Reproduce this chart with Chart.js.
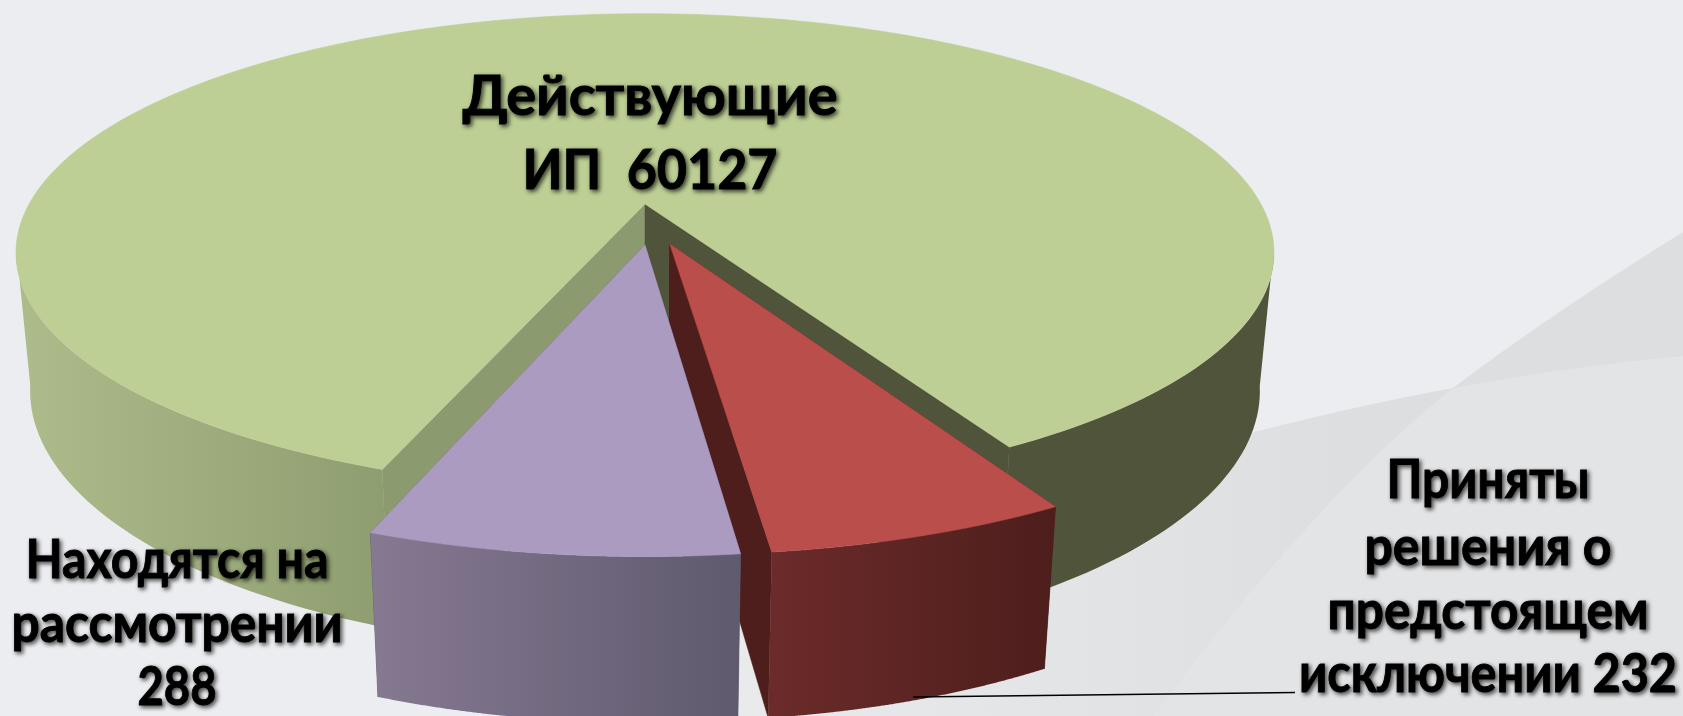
<!DOCTYPE html>
<html lang="ru">
<head>
<meta charset="utf-8">
<title>ИП</title>
<script src="https://cdn.jsdelivr.net/npm/chart.js@4/dist/chart.umd.min.js"></script>
<style>
  html, body { margin: 0; padding: 0; background: #ecedf0; overflow: hidden; }
  canvas { display: block; }
</style>
</head>
<body>
<canvas id="pie" width="1683" height="716"></canvas>
<script>
// categories in drawing order: green, red, purple
const categories = ["Действующие ИП", "Приняты решения о предстоящем исключении", "Находятся на рассмотрении"];
// numbers printed on the labels
const labelValues = [60127, 232, 288];
// slice sizes as they look in the picture (%), the picture does not plot the printed numbers to scale
const sliceShares = [86.3, 6.2, 7.5];
const explode = [0, 52, 52];

const labelLines = [
  ["Действующие", "ИП  " + labelValues[0]],
  ["Приняты", "решения о", "предстоящем", "исключении " + labelValues[1]],
  ["Находятся на", "рассмотрении", String(labelValues[2])]
];

const topColors = ["#bdcf95", "#b94e4b", "#ab9bc1"];
const wallStops = [
  [[0, "#aebc8c"], [0.29, "#8f9e70"], [0.5, "#50543a"], [1, "#50543a"]],
  [[0, "#6b2b2a"], [1, "#4d1e1c"]],
  [[0, "#867992"], [1, "#5f5a6e"]]
];
const startFaceColors = ["#8b9a6f", "#4d1e1c", "#5f5a6e"];
const endFaceColors = ["#50543a", "#4d1e1c", "#5f5a6e"];
// explode direction differs a bit from the bisector in the picture
const explodeShift = [0, 5, -6.7];

// perspective of the 3d look, radius of the arcs = 1
const rx = 2.053, ry = 0.763, depth = 0.46, tilt = 0.203, sink = 0.022;

const project = (arc, X, Y, Z) => {
  const w = 1 - tilt * Y + sink * Z;
  const r = arc.outerRadius;
  return [arc.x + r * rx * X / w, arc.y + r * (ry * Y + depth * Z) / w];
};

const poly = (ctx, pts, fill) => {
  ctx.beginPath();
  pts.forEach((p, i) => (i ? ctx.lineTo(p[0], p[1]) : ctx.moveTo(p[0], p[1])));
  ctx.closePath();
  ctx.fillStyle = fill;
  ctx.fill();
  ctx.strokeStyle = fill;
  ctx.lineWidth = 0.6;
  ctx.stroke();
};

const drawSlice = (ctx, arc, i) => {
  const mid = (arc.startAngle + arc.endAngle) / 2 + explodeShift[i] * Math.PI / 180;
  const off = arc.options.offset / arc.outerRadius;
  const ox = off * Math.cos(mid), oy = off * Math.sin(mid);
  const topEdge = [], botEdge = [], facing = [];
  const steps = 240;
  for (let s = 0; s <= steps; s++) {
    const a = arc.startAngle + (arc.endAngle - arc.startAngle) * s / steps;
    topEdge.push(project(arc, ox + Math.cos(a), oy + Math.sin(a), 0));
    botEdge.push(project(arc, ox + Math.cos(a), oy + Math.sin(a), 1));
    facing.push(Math.sin(a) > tilt * 0.95);
  }
  const apexTop = project(arc, ox, oy, 0);
  const apexBot = project(arc, ox, oy, 1);

  // cut faces first, the outer wall and the top go over them
  poly(ctx, [apexTop, topEdge[0], botEdge[0], apexBot], startFaceColors[i]);
  poly(ctx, [apexTop, topEdge[steps], botEdge[steps], apexBot], endFaceColors[i]);

  const xs = topEdge.map((p) => p[0]);
  const grad = ctx.createLinearGradient(Math.min(...xs), 0, Math.max(...xs), 0);
  wallStops[i].forEach((st) => grad.addColorStop(st[0], st[1]));
  // all wall strips in one path so no seams show between them
  ctx.beginPath();
  for (let s = 0; s < steps; s++) {
    if (facing[s] || facing[s + 1]) {
      ctx.moveTo(topEdge[s][0], topEdge[s][1]);
      ctx.lineTo(topEdge[s + 1][0], topEdge[s + 1][1]);
      ctx.lineTo(botEdge[s + 1][0], botEdge[s + 1][1]);
      ctx.lineTo(botEdge[s][0], botEdge[s][1]);
      ctx.closePath();
    }
  }
  ctx.fillStyle = grad;
  ctx.fill();

  poly(ctx, [apexTop].concat(topEdge), topColors[i]);
};

const backdrop = {
  id: "backdrop",
  beforeDraw(chart) {
    const ctx = chart.ctx;
    const W = chart.width, H = chart.height;
    ctx.save();
    ctx.fillStyle = "#ecedf0";
    ctx.fillRect(0, 0, W, H);

    const fan = new Path2D();
    fan.moveTo(720, H);
    fan.lineTo(720, 560);
    fan.lineTo(1250, 433);
    fan.quadraticCurveTo(1360, 405, 1453, 388);
    fan.quadraticCurveTo(1560, 368, W, 356);
    fan.lineTo(W, H);
    fan.closePath();

    const band = new Path2D();
    band.moveTo(W, 232);
    band.quadraticCurveTo(1545, 318, 1453, 388);
    band.quadraticCurveTo(1317, 496, 1153, H);
    band.lineTo(W, H);
    band.closePath();

    const g = ctx.createLinearGradient(740, 0, 1350, 0);
    g.addColorStop(0, "#e9eaec");
    g.addColorStop(0.45, "#e4e5e7");
    g.addColorStop(1, "#dddee0");
    ctx.fillStyle = g;
    ctx.fill(fan);

    ctx.fillStyle = "#dddee0";
    ctx.fill(band);
    ctx.clip(band);
    ctx.fillStyle = "#e3e4e6";
    ctx.fill(fan);
    ctx.restore();
  }
};

const pie3d = {
  id: "pie3d",
  beforeDatasetDraw(chart, args) {
    const ctx = chart.ctx;
    const arcs = chart.getDatasetMeta(args.index).data;
    ctx.save();
    arcs.forEach((arc, i) => drawSlice(ctx, arc, i));
    ctx.restore();
    return false;
  },
  afterDatasetsDraw(chart) {
    const ctx = chart.ctx;
    ctx.save();
    // leader line
    ctx.beginPath();
    ctx.moveTo(913, 697);
    ctx.lineTo(1295, 692.5);
    ctx.strokeStyle = "#000";
    ctx.lineWidth = 1.5;
    ctx.stroke();

    ctx.textAlign = "center";
    ctx.textBaseline = "alphabetic";
    ctx.fillStyle = "#000";
    ctx.strokeStyle = "#000";
    ctx.lineWidth = 0.9;
    ctx.shadowColor = "rgba(0,0,0,0.7)";
    ctx.shadowBlur = 4;
    ctx.shadowOffsetX = 2;
    ctx.shadowOffsetY = 2;
    const spots = [
      { x: 650, size: 56, y: [115, 189], fit: [375, 255] },
      { x: 1488, size: 53, y: [498, 565, 629, 692], fit: [203, 247, 321, 378] },
      { x: 177, size: 53, y: [578, 642, 705], fit: [303, 331, 79] }
    ];
    labelLines.forEach((lines, i) => {
      ctx.font = 'bold ' + spots[i].size + 'px Lato, "Open Sans", sans-serif';
      lines.forEach((t, j) => {
        ctx.fillText(t, spots[i].x, spots[i].y[j], spots[i].fit[j]);
        ctx.strokeText(t, spots[i].x, spots[i].y[j], spots[i].fit[j]);
      });
    });
    ctx.restore();
  }
};

new Chart(document.getElementById("pie"), {
  type: "pie",
  data: {
    labels: categories,
    datasets: [{ data: sliceShares, offset: explode, borderWidth: 0, hoverOffset: 0 }]
  },
  options: {
    responsive: false,
    animation: false,
    rotation: 200.2,
    radius: 300,
    // puts the pie centre where the picture has it
    layout: { padding: { left: 0, top: 0, right: 393, bottom: 308 } },
    plugins: { legend: { display: false }, tooltip: { enabled: false } }
  },
  plugins: [backdrop, pie3d]
});
</script>
</body>
</html>
